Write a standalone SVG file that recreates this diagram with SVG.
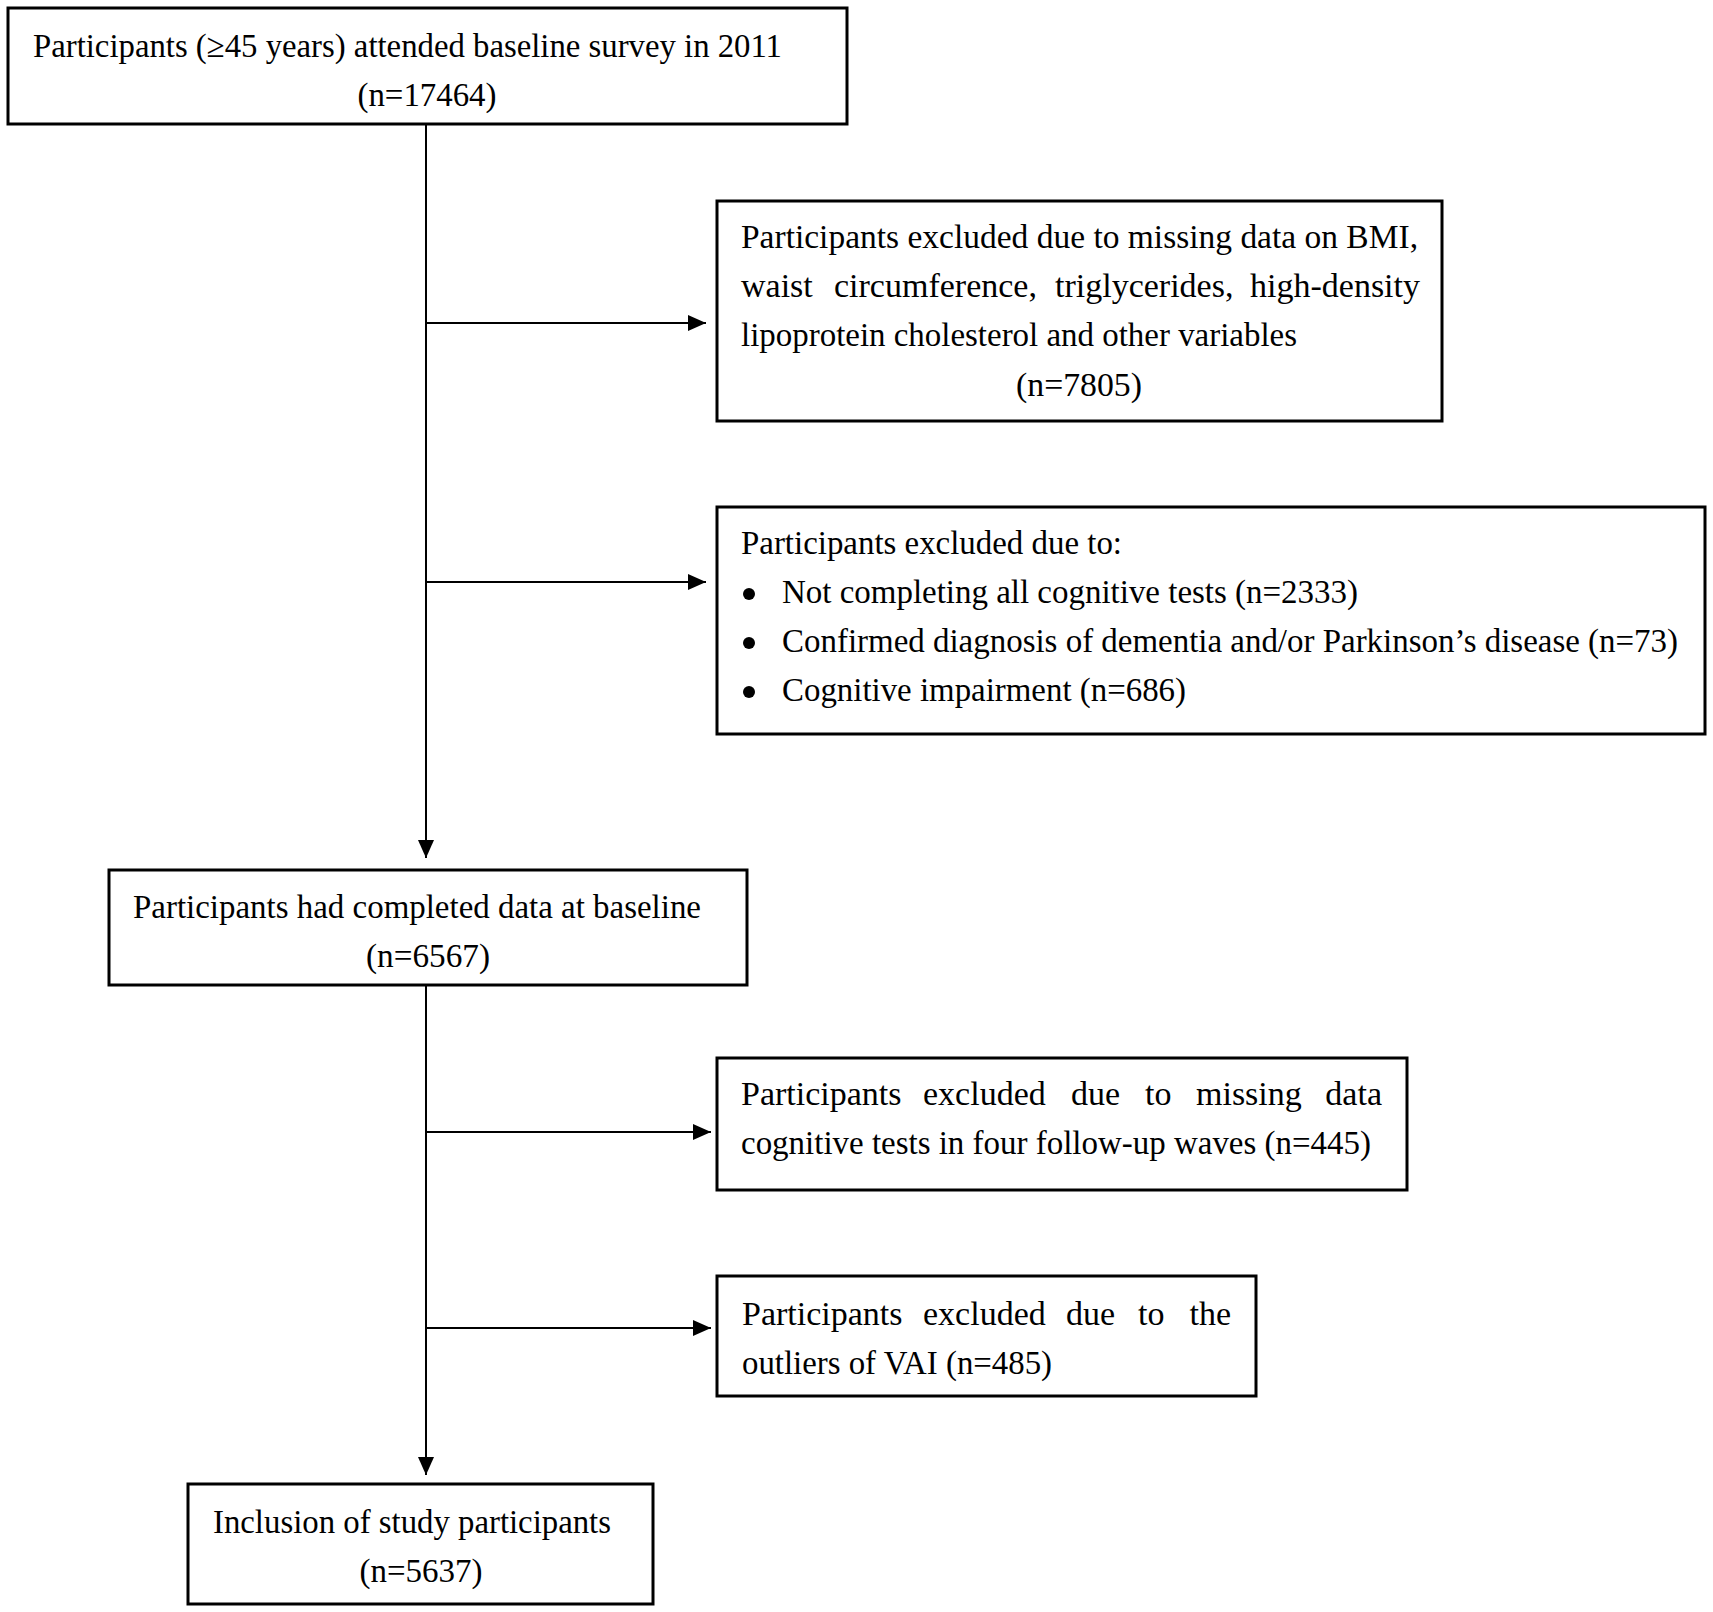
<svg xmlns="http://www.w3.org/2000/svg" width="1713" height="1612" viewBox="0 0 1713 1612">
<style>
.box{fill:#fff;stroke:#000;stroke-width:3}
.t{font-family:"Liberation Serif","Times New Roman",serif;font-size:34px;fill:#000}
.c{text-anchor:middle}
.e{text-anchor:end}
.ln{stroke:#000;stroke-width:2;fill:none}
</style>
<defs>
<marker id="ah" markerUnits="userSpaceOnUse" markerWidth="18" markerHeight="16" refX="18" refY="8" orient="auto">
<path d="M0,0 L18,8 L0,16 Z" fill="#000"/>
</marker>
</defs>
<rect width="1713" height="1612" fill="#fff"/>
<g id="connectors">
<line class="ln" x1="426" y1="124" x2="426" y2="858" marker-end="url(#ah)"/>
<line class="ln" x1="426" y1="323" x2="706" y2="323" marker-end="url(#ah)"/>
<line class="ln" x1="426" y1="582" x2="706" y2="582" marker-end="url(#ah)"/>
<line class="ln" x1="426" y1="985" x2="426" y2="1475" marker-end="url(#ah)"/>
<line class="ln" x1="427" y1="1132" x2="711" y2="1132" marker-end="url(#ah)"/>
<line class="ln" x1="427" y1="1328" x2="711" y2="1328" marker-end="url(#ah)"/>
</g>
<g id="n1">
<rect class="box" x="8" y="8" width="839" height="116"/>
<text class="t" x="33" y="57" textLength="749" lengthAdjust="spacingAndGlyphs">Participants (≥45 years) attended baseline survey in 2011</text>
<text class="t c" x="427" y="106" textLength="139" lengthAdjust="spacingAndGlyphs">(n=17464)</text>
</g>
<g id="n2">
<rect class="box" x="717" y="201" width="725" height="220"/>
<text class="t" x="741" y="248" textLength="677" lengthAdjust="spacingAndGlyphs">Participants excluded due to missing data on BMI,</text>
<text class="t" y="297"><tspan x="741">waist</tspan><tspan x="834">circumference,</tspan><tspan x="1055">triglycerides,</tspan></text>
<text class="t e" x="1420" y="297">high-density</text>
<text class="t" x="741" y="346" textLength="556" lengthAdjust="spacingAndGlyphs">lipoprotein cholesterol and other variables</text>
<text class="t c" x="1079" y="396" textLength="126" lengthAdjust="spacingAndGlyphs">(n=7805)</text>
</g>
<g id="n3">
<rect class="box" x="717" y="507" width="988" height="227"/>
<text class="t" x="741" y="554" textLength="381" lengthAdjust="spacingAndGlyphs">Participants excluded due to:</text>
<circle cx="749" cy="594" r="6"/>
<circle cx="749" cy="643" r="6"/>
<circle cx="749" cy="692" r="6"/>
<text class="t" x="782" y="603" textLength="576" lengthAdjust="spacingAndGlyphs">Not completing all cognitive tests (n=2333)</text>
<text class="t" x="782" y="652" textLength="896" lengthAdjust="spacingAndGlyphs">Confirmed diagnosis of dementia and/or Parkinson’s disease (n=73)</text>
<text class="t" x="782" y="701" textLength="404" lengthAdjust="spacingAndGlyphs">Cognitive impairment (n=686)</text>
</g>
<g id="n4">
<rect class="box" x="109" y="870" width="638" height="115"/>
<text class="t" x="133" y="918" textLength="568" lengthAdjust="spacingAndGlyphs">Participants had completed data at baseline</text>
<text class="t c" x="428" y="967" textLength="124" lengthAdjust="spacingAndGlyphs">(n=6567)</text>
</g>
<g id="n5">
<rect class="box" x="717" y="1058" width="690" height="132"/>
<text class="t" y="1105"><tspan x="741">Participants</tspan><tspan x="923">excluded</tspan><tspan x="1071">due</tspan><tspan x="1145">to</tspan><tspan x="1196">missing</tspan></text>
<text class="t e" x="1382" y="1105">data</text>
<text class="t" x="741" y="1154" textLength="630" lengthAdjust="spacingAndGlyphs">cognitive tests in four follow-up waves (n=445)</text>
</g>
<g id="n6">
<rect class="box" x="717" y="1276" width="539" height="120"/>
<text class="t" y="1325"><tspan x="742">Participants</tspan><tspan x="923">excluded</tspan><tspan x="1066">due</tspan><tspan x="1138">to</tspan></text>
<text class="t e" x="1231" y="1325">the</text>
<text class="t" x="742" y="1374" textLength="310" lengthAdjust="spacingAndGlyphs">outliers of VAI (n=485)</text>
</g>
<g id="n7">
<rect class="box" x="188" y="1484" width="465" height="120"/>
<text class="t" x="213" y="1533" textLength="398" lengthAdjust="spacingAndGlyphs">Inclusion of study participants</text>
<text class="t c" x="421" y="1582" textLength="123" lengthAdjust="spacingAndGlyphs">(n=5637)</text>
</g>
</svg>
